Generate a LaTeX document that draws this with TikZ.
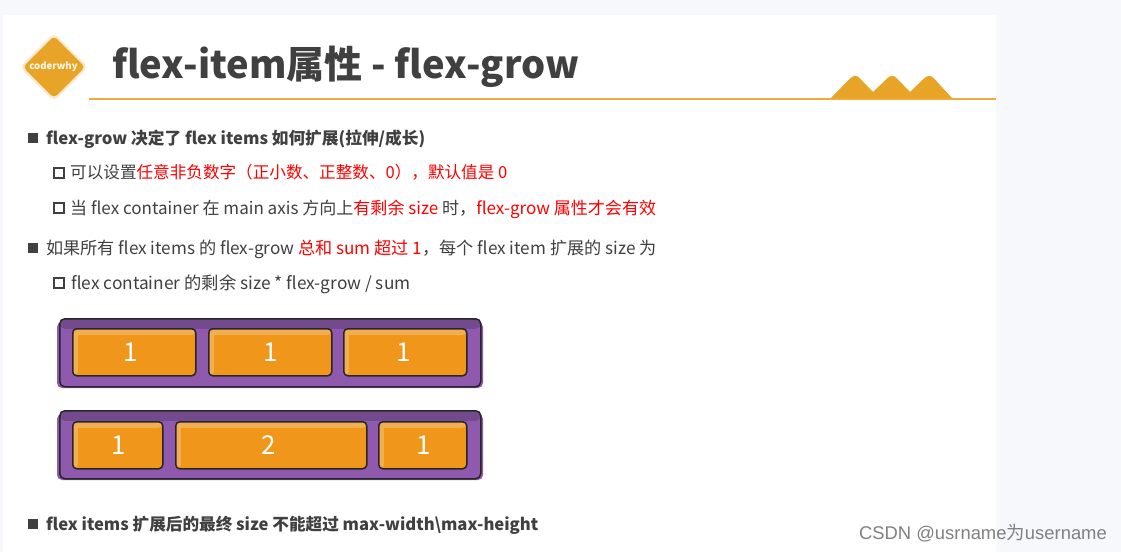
\documentclass[tikz,border=0pt]{standalone}
\usepackage{fontspec}
\setmainfont{Noto Sans CJK SC}
\newfontfamily\wmfont{Liberation Sans}
\usetikzlibrary{positioning}
\definecolor{pagebg}{HTML}{F7F8FC}
\definecolor{gold}{HTML}{E8A427}
\definecolor{rulegold}{HTML}{F0AD3C}
\definecolor{bodytext}{HTML}{404040}
\definecolor{flexred}{HTML}{FF0000}
\definecolor{flexpurple}{HTML}{8F5AAE}
\definecolor{flexdark}{HTML}{744A8E}
\definecolor{floworange}{HTML}{EF961B}
\definecolor{flowlight}{HTML}{F2AE52}
\newcommand{\hl}[1]{\textcolor{flexred}{#1}}
\tikzset{
  headline/.style = {anchor=base west, inner sep=0pt, text=bodytext, font=\fontsize{16.7}{18}\selectfont\bfseries},
  subline/.style = {anchor=base west, inner sep=0pt, text=bodytext, font=\fontsize{17.1}{18}\selectfont},
  solidmark/.style = {fill=bodytext, draw=none, minimum size=10pt, inner sep=0pt},
  hollowmark/.style = {draw=bodytext, line width=2.8pt, fill=white, minimum size=10pt, inner sep=0pt},
  flexbar/.style = {draw=black!85, line width=1.5pt, fill=flexpurple, rounded corners=5pt, minimum width=421pt, minimum height=68pt, inner sep=0pt, anchor=north west,
    path picture={
      \fill[flexdark] ([yshift=-10pt]path picture bounding box.north west) rectangle (path picture bounding box.north east);
    }},
  flexitem/.style = {draw=black!85, line width=1.5pt, fill=floworange, rounded corners=4pt, minimum height=47pt, inner sep=0pt, anchor=north west,
    text=white, font=\fontsize{26}{30}\selectfont,
    path picture={
      \fill[flowlight] (path picture bounding box.north west) rectangle ([xshift=5pt]path picture bounding box.south west);
      \fill[flowlight] (path picture bounding box.north west) rectangle ([yshift=-6pt]path picture bounding box.north east);
    }},
}
\begin{document}
\begin{tikzpicture}[x=1pt, y=-1pt]
	% Page and card
	\useasboundingbox (0,0) rectangle (1121,552);
	\fill[pagebg] (0,0) rectangle (1121,552);
	\fill[white] (3,15) rectangle (996,552);
	% Header
	\fill[gold!25, rounded corners=5pt] (54,33) -- (88,67) -- (54,101) -- (20,67) -- cycle;
	\fill[gold, rounded corners=4pt] (54,36) -- (85,67) -- (54,98) -- (23,67) -- cycle;
	\node[inner sep=0pt, text=white!92!gold, font=\fontsize{9.6}{12}\selectfont\bfseries] (logo) at (53.5,66.5) {coderwhy};
	\node[anchor=base west, inner sep=0pt, text=bodytext, font=\fontsize{38}{46}\selectfont\bfseries] (title) at (112,78) {flex-item属性 - flex-grow};
	\draw[rulegold, line width=2pt] (89,98.5) -- (996,98.5);
	\fill[gold] (831,98) -- (850,78.5) .. controls (854,75) and (857,75) .. (860,78.5) -- (873,92) -- (887,78.5) .. controls (891,75) and (894,75) .. (897,78.5) -- (910,92) -- (924,78.5) .. controls (928,75) and (931,75) .. (934,78.5) -- (952,98) -- cycle;
	% Text lines
	\node[solidmark] (markA) at (33,138) {};
	\node[headline] (lineA) at (46,144) {flex-grow 决定了 flex items 如何扩展(拉伸/成长)};
	\node[hollowmark] (markB) at (59,173) {};
	\node[subline, font=\fontsize{16.6}{18}\selectfont] (lineB) at (70,178.5) {可以设置\hl{任意非负数字（正小数、正整数、0），默认值是 0}};
	\node[hollowmark] (markC) at (59,208) {};
	\node[subline, font=\fontsize{17.04}{18}\selectfont] (lineC) at (70,214) {当 flex container 在 main axis 方向上\hl{有剩余 size} 时，\hl{flex-grow 属性才会有效}};
	\node[solidmark] (markD) at (33,248) {};
	\node[subline, font=\fontsize{17.16}{18}\selectfont] (lineD) at (46,254) {如果所有 flex items 的 flex-grow \hl{总和 sum 超过 1}，每个 flex item 扩展的 size 为};
	\node[hollowmark] (markE) at (59,283) {};
	\node[subline, font=\fontsize{17.3}{18}\selectfont] (lineE) at (71,289) {flex container 的剩余 size * flex-grow / sum};
	\node[solidmark] (markF) at (33,524) {};
	\node[headline, font=\fontsize{16.63}{18}\selectfont\bfseries] (lineF) at (46,530) {flex items 扩展后的最终 size 不能超过 max-width\textbackslash max-height};
	% Equal items
	\fill[flexpurple, rounded corners=5pt] (57,322) rectangle (483,388);
	\node[flexbar] (barA) at (59,318) {};
	\node[flexitem, minimum width=123pt] (itemAa) at (72,328) {\kern-8pt 1};
	\node[flexitem, minimum width=123pt] (itemAb) at (208,328) {1};
	\node[flexitem, minimum width=123pt] (itemAc) at (343,328) {\kern-4pt 1};
	% Weighted items
	\fill[flexpurple, rounded corners=5pt] (57,414) rectangle (483,480);
	\node[flexbar] (barB) at (59,410) {};
	\node[flexitem, minimum width=90pt] (itemBa) at (72,421) {\kern2pt 1};
	\node[flexitem, minimum width=191pt] (itemBb) at (175,421) {\kern-5pt 2};
	\node[flexitem, minimum width=88pt] (itemBc) at (378,421) {\kern2pt 1};
	% Watermark
	\node[anchor=base east, inner sep=0pt, text=black!50, font=\fontsize{18.4}{20}\wmfont] (mark) at (1107,539) {CSDN @usrname{\rmfamily 为}username};
\end{tikzpicture}
\end{document}
